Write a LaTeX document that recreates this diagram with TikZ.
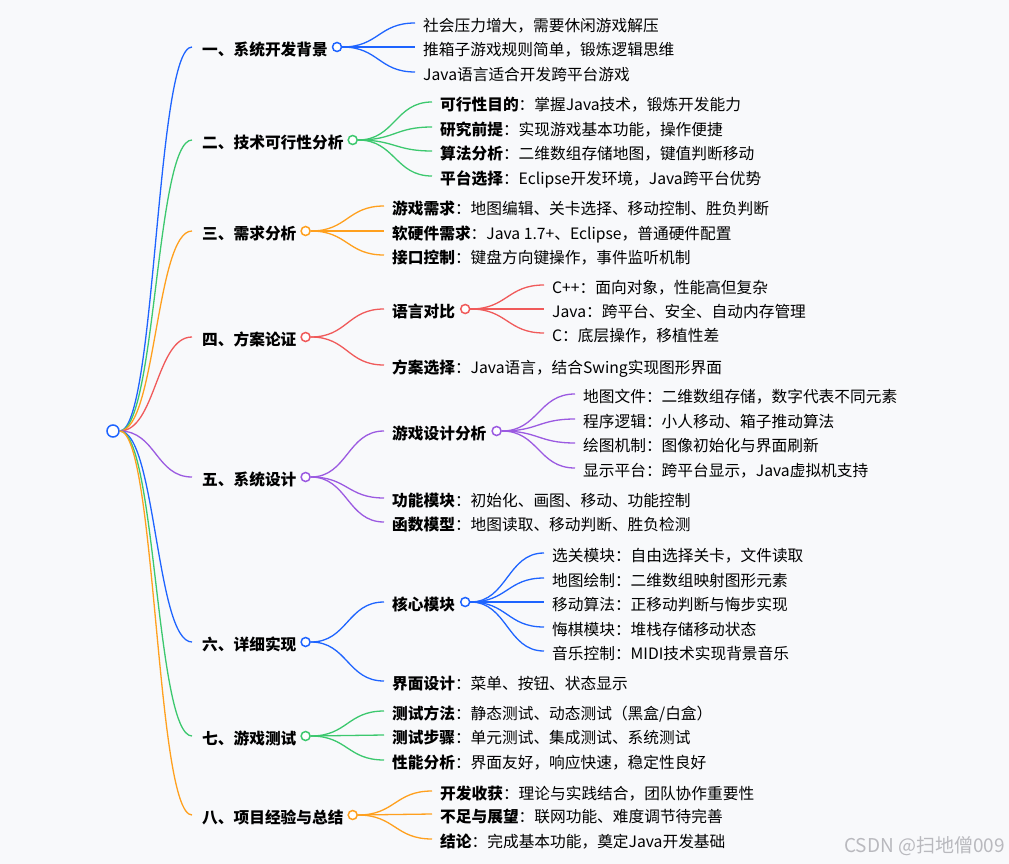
\documentclass[tikz,border=0pt]{standalone}
\usepackage{fontspec}
\setmainfont{Noto Sans CJK SC}
\usetikzlibrary{calc}
\definecolor{cb}{RGB}{30,100,255}
\definecolor{cg}{RGB}{60,200,110}
\definecolor{co}{RGB}{255,160,30}
\definecolor{cr}{RGB}{240,90,90}
\definecolor{cp}{RGB}{155,90,225}
\definecolor{bgc}{RGB}{248,249,251}
\definecolor{wm}{RGB}{185,185,190}
\begin{document}
\begin{tikzpicture}[x=1pt,y=-1pt,
  font=\fontsize{15.7}{18}\selectfont,
  lbl/.style={anchor=west, inner ysep=0pt, inner xsep=8pt, text height=16.3pt, text depth=0pt},
  top/.style={lbl, inner xsep=10pt, font=\fontsize{15.7}{18}\selectfont\bfseries},
  key/.style={lbl, font=\fontsize{15.7}{18}\selectfont\bfseries},
  dot/.style={circle, draw=#1, fill=white, line width=1.5pt, minimum size=9pt, inner sep=0pt},
  mm/.style={to path={let \p1=(\tikztostart), \p2=(\tikztotarget) in .. controls ({0.5*(\x1+\x2)},\y1) and ({0.5*(\x1+\x2)},\y2) .. (\tikztotarget)}},
  br/.style={draw=#1, line width=1.3pt, mm}
]
\fill[bgc] (0,0) rectangle (1009,864);
\useasboundingbox (0,0) rectangle (1009,864);

% root
\node[dot=cb, minimum size=12pt] (root) at (113,431) {};

% level 1
\node[top] (a1) at (192,47) {一、系统开发背景};
\node[top] (a2) at (192,140) {二、技术可行性分析};
\node[top] (a3) at (192,231) {三、需求分析};
\node[top] (a4) at (192,337) {四、方案论证};
\node[top] (a5) at (192,477) {五、系统设计};
\node[top] (a6) at (192,642) {六、详细实现};
\node[top] (a7) at (192,736) {七、游戏测试};
\node[top] (a8) at (192,815) {八、项目经验与总结};

\draw[br=cb] (root.east) to (a1.west);
\draw[br=cg] (root.east) to (a2.west);
\draw[br=co] (root.east) to (a3.west);
\draw[br=cr] (root.east) to (a4.west);
\draw[br=cp] (root.east) to (a5.west);
\draw[br=cb] (root.east) to (a6.west);
\draw[br=cg] (root.east) to (a7.west);
\draw[br=co] (root.east) to (a8.west);

\node[dot=cb] (a1c) at ([xshift=-1pt]a1.east) {};
\node[dot=cg] (a2c) at ([xshift=-1pt]a2.east) {};
\node[dot=co] (a3c) at ([xshift=-1pt]a3.east) {};
\node[dot=cr] (a4c) at ([xshift=-1pt]a4.east) {};
\node[dot=cp] (a5c) at ([xshift=-1pt]a5.east) {};
\node[dot=cb] (a6c) at ([xshift=-1pt]a6.east) {};
\node[dot=cg] (a7c) at ([xshift=-1pt]a7.east) {};
\node[dot=co] (a8c) at ([xshift=-1pt]a8.east) {};

% branch 1
\node[lbl] (b11) at (415,23) {社会压力增大，需要休闲游戏解压};
\node[lbl] (b12) at (415,47) {推箱子游戏规则简单，锻炼逻辑思维};
\node[lbl] (b13) at (415,72) {Java语言适合开发跨平台游戏};
\foreach \t in {b11,b12,b13} \draw[br=cb] (a1c.east) to (\t.west);

% branch 2
\node[lbl] (b21) at (432,102) {\textbf{可行性目的}：掌握Java技术，锻炼开发能力};
\node[lbl] (b22) at (432,127) {\textbf{研究前提}：实现游戏基本功能，操作便捷};
\node[lbl] (b23) at (432,151) {\textbf{算法分析}：二维数组存储地图，键值判断移动};
\node[lbl] (b24) at (432,176) {\textbf{平台选择}：Eclipse开发环境，Java跨平台优势};
\foreach \t in {b21,b22,b23,b24} \draw[br=cg] (a2c.east) to (\t.west);

% branch 3
\node[lbl] (b31) at (384,206) {\textbf{游戏需求}：地图编辑、关卡选择、移动控制、胜负判断};
\node[lbl] (b32) at (384,231) {\textbf{软硬件需求}：Java 1.7+、Eclipse，普通硬件配置};
\node[lbl] (b33) at (384,255) {\textbf{接口控制}：键盘方向键操作，事件监听机制};
\foreach \t in {b31,b32,b33} \draw[br=co] (a3c.east) to (\t.west);

% branch 4
\node[key] (b41) at (384,309) {语言对比};
\node[lbl] (b42) at (384,365) {\textbf{方案选择}：Java语言，结合Swing实现图形界面};
\foreach \t in {b41,b42} \draw[br=cr] (a4c.east) to (\t.west);
\node[dot=cr] (b41c) at ([xshift=2pt]b41.east) {};
\node[lbl] (c411) at (544,285) {C++：面向对象，性能高但复杂};
\node[lbl] (c412) at (544,309) {Java：跨平台、安全、自动内存管理};
\node[lbl] (c413) at (544,333) {C：底层操作，移植性差};
\foreach \t in {c411,c412,c413} \draw[br=cr] (b41c.east) to (\t.west);

% branch 5
\node[key] (b51) at (384,431) {游戏设计分析};
\node[lbl] (b52) at (384,498) {\textbf{功能模块}：初始化、画图、移动、功能控制};
\node[lbl] (b53) at (384,522) {\textbf{函数模型}：地图读取、移动判断、胜负检测};
\foreach \t in {b51,b52,b53} \draw[br=cp] (a5c.east) to (\t.west);
\node[dot=cp] (b51c) at ([xshift=2pt]b51.east) {};
\node[lbl] (c511) at (575,394) {地图文件：二维数组存储，数字代表不同元素};
\node[lbl] (c512) at (575,419) {程序逻辑：小人移动、箱子推动算法};
\node[lbl] (c513) at (575,443) {绘图机制：图像初始化与界面刷新};
\node[lbl] (c514) at (575,468) {显示平台：跨平台显示，Java虚拟机支持};
\foreach \t in {c511,c512,c513,c514} \draw[br=cp] (b51c.east) to (\t.west);

% branch 6
\node[key] (b61) at (384,602) {核心模块};
\node[lbl] (b62) at (384,681) {\textbf{界面设计}：菜单、按钮、状态显示};
\foreach \t in {b61,b62} \draw[br=cb] (a6c.east) to (\t.west);
\node[dot=cb] (b61c) at ([xshift=2pt]b61.east) {};
\node[lbl] (c611) at (544,553) {选关模块：自由选择关卡，文件读取};
\node[lbl] (c612) at (544,578) {地图绘制：二维数组映射图形元素};
\node[lbl] (c613) at (544,602) {移动算法：正移动判断与悔步实现};
\node[lbl] (c614) at (544,627) {悔棋模块：堆栈存储移动状态};
\node[lbl] (c615) at (544,651) {音乐控制：MIDI技术实现背景音乐};
\foreach \t in {c611,c612,c613,c614,c615} \draw[br=cb] (b61c.east) to (\t.west);

% branch 7
\node[lbl] (b71) at (384,711) {\textbf{测试方法}：静态测试、动态测试（黑盒/白盒）};
\node[lbl] (b72) at (384,735) {\textbf{测试步骤}：单元测试、集成测试、系统测试};
\node[lbl] (b73) at (384,760) {\textbf{性能分析}：界面友好，响应快速，稳定性良好};
\foreach \t in {b71,b72,b73} \draw[br=cg] (a7c.east) to (\t.west);

% branch 8
\node[lbl] (b81) at (432,791) {\textbf{开发收获}：理论与实践结合，团队协作重要性};
\node[lbl] (b82) at (432,814) {\textbf{不足与展望}：联网功能、难度调节待完善};
\node[lbl] (b83) at (432,839) {\textbf{结论}：完成基本功能，奠定Java开发基础};
\foreach \t in {b81,b82,b83} \draw[br=co] (a8c.east) to (\t.west);

% watermark
\node[anchor=east, inner sep=0pt, text=wm, font=\fontsize{19}{22}\selectfont] (wmk) at (1005,846) {CSDN @扫地僧009};
\end{tikzpicture}
\end{document}
